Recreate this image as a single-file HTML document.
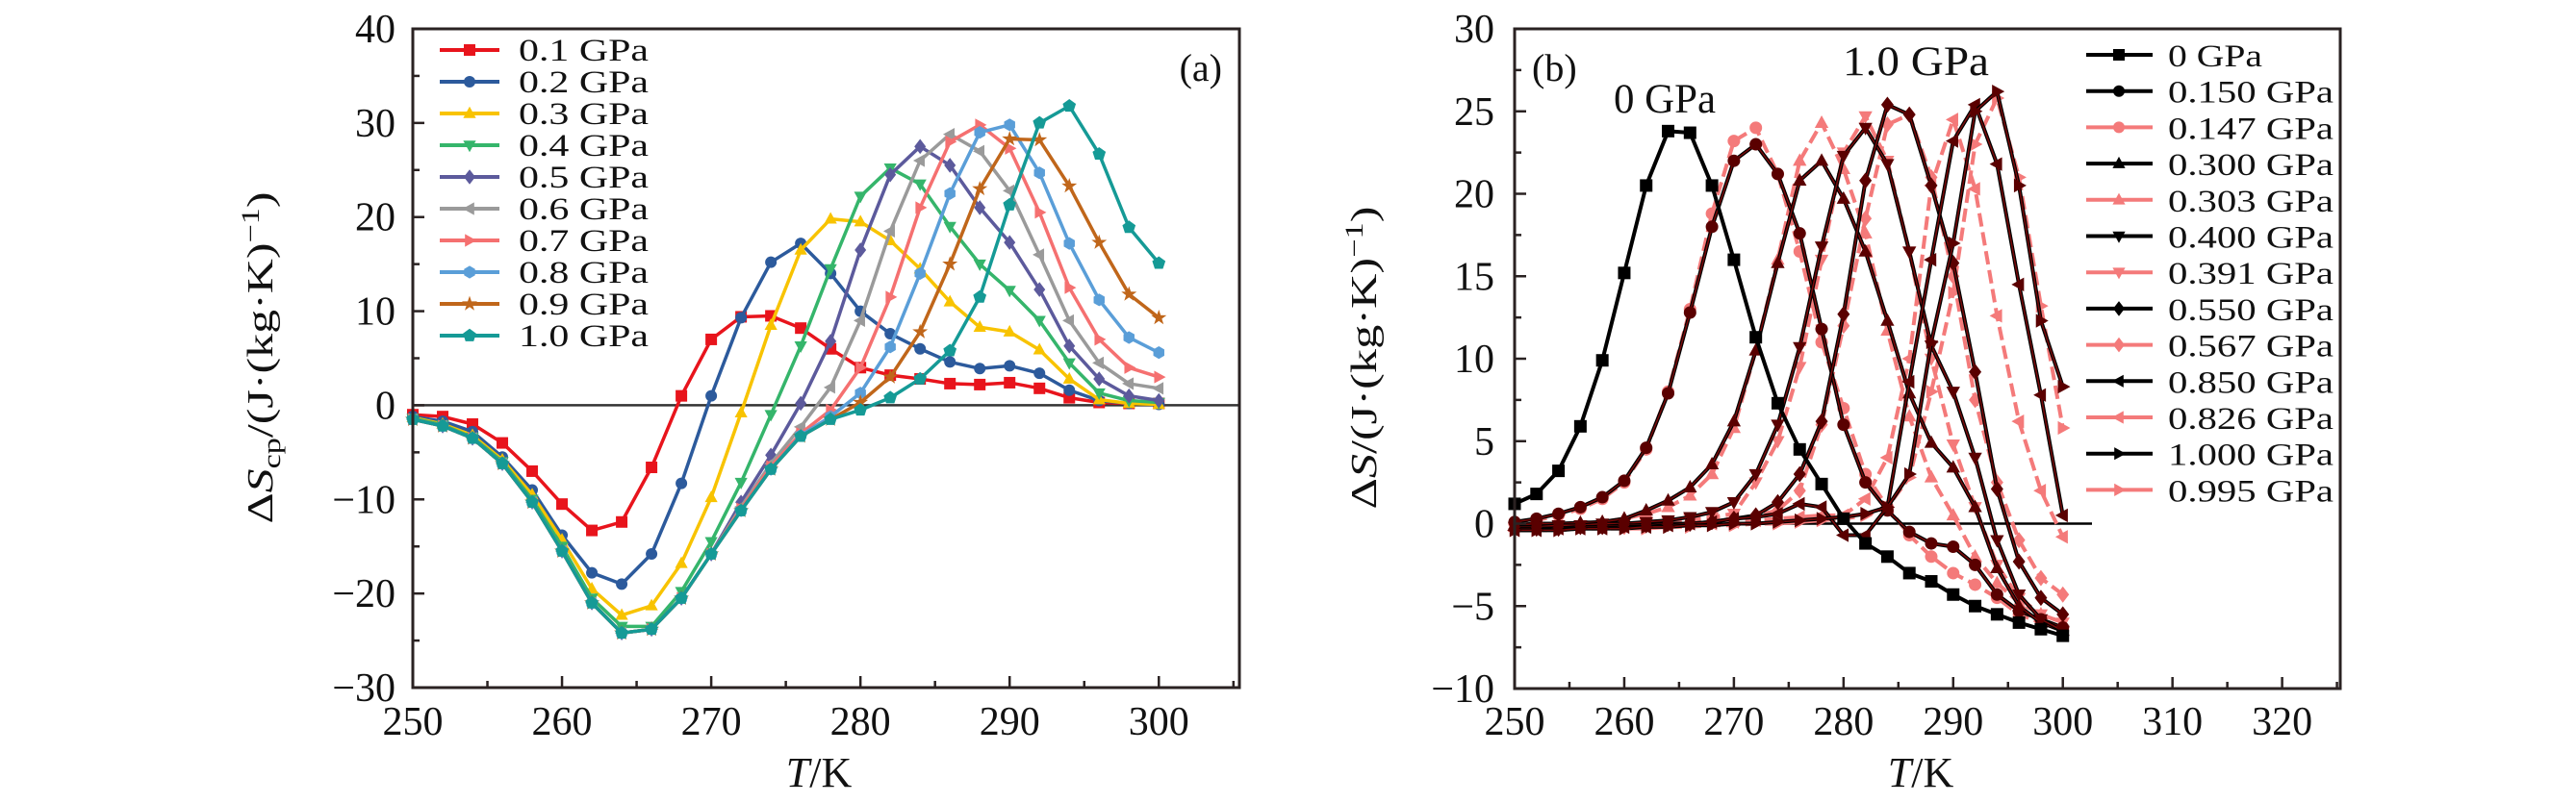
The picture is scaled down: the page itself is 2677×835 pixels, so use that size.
<!DOCTYPE html>
<html><head><meta charset="utf-8"><style>
html,body{margin:0;padding:0;background:#fff;}
svg{display:block;}
text{font-family:"Liberation Serif",serif;fill:#111;}
</style></head><body>
<svg id="s" width="2677" height="835" xmlns="http://www.w3.org/2000/svg"></svg>
<script>
const S=document.getElementById('s');let out='';
const T=[];for(let t=250;t<=300;t+=2)T.push(t);
function mk(shape,x,y,r,fill){
 switch(shape){
 case 'sq':return `<rect x="${x-r}" y="${y-r}" width="${2*r}" height="${2*r}" fill="${fill}"/>`;
 case 'ci':return `<circle cx="${x}" cy="${y}" r="${r}" fill="${fill}"/>`;
 case 'tu':return `<polygon points="${x},${y-r*1.2} ${x-r*1.1},${y+r*0.8} ${x+r*1.1},${y+r*0.8}" fill="${fill}"/>`;
 case 'td':return `<polygon points="${x},${y+r*1.2} ${x-r*1.1},${y-r*0.8} ${x+r*1.1},${y-r*0.8}" fill="${fill}"/>`;
 case 'tl':return `<polygon points="${x-r*1.2},${y} ${x+r*0.8},${y-r*1.1} ${x+r*0.8},${y+r*1.1}" fill="${fill}"/>`;
 case 'tr':return `<polygon points="${x+r*1.2},${y} ${x-r*0.8},${y-r*1.1} ${x-r*0.8},${y+r*1.1}" fill="${fill}"/>`;
 case 'di':return `<polygon points="${x},${y-r*1.3} ${x+r},${y} ${x},${y+r*1.3} ${x-r},${y}" fill="${fill}"/>`;
 case 'hx':{let p=[];for(let i=0;i<6;i++){let a=Math.PI/3*i+Math.PI/6;p.push((x+r*1.1*Math.cos(a))+','+(y+r*1.1*Math.sin(a)));}return `<polygon points="${p.join(' ')}" fill="${fill}"/>`;}
 case 'pe':{let p=[];for(let i=0;i<5;i++){let a=-Math.PI/2+2*Math.PI/5*i;p.push((x+r*1.2*Math.cos(a))+','+(y+r*1.2*Math.sin(a)));}return `<polygon points="${p.join(' ')}" fill="${fill}"/>`;}
 case 'st':{let p=[];for(let i=0;i<10;i++){let a=-Math.PI/2+Math.PI/5*i;let rr=i%2?r*0.55:r*1.4;p.push((x+rr*Math.cos(a))+','+(y+rr*Math.sin(a)));}return `<polygon points="${p.join(' ')}" fill="${fill}"/>`;}
 }
}
function line(pts,stroke,w,dash){return `<polyline points="${pts.map(p=>p.join(',')).join(' ')}" fill="none" stroke="${stroke}" stroke-width="${w}" stroke-linejoin="round" ${dash?`stroke-dasharray="${dash}"`:''}/>`;}

// ---------- Panel A ----------
const A={x0:429,x1:1288,y0:30,y1:715,tmin:250,tmax:305.4,vmin:-30,vmax:40};
function ax(t,P){return P.x0+(t-P.tmin)/(P.tmax-P.tmin)*(P.x1-P.x0);}
function ay(v,P){return P.y1-(v-P.vmin)/(P.vmax-P.vmin)*(P.y1-P.y0);}
const early5=[-1.5,-2.2,-3.5,-6.2,-10.3,-15.5,-21,-24.2,-23.8,-20.5,-15.8];
const sA=[
 ['0.1 GPa','#e8141c','sq',[-1,-1.2,-2,-4,-7,-10.5,-13.3,-12.4,-6.6,1,7,9.4,9.5,8.2,6,4,3.2,2.8,2.3,2.2,2.4,1.8,0.8,0.3,0.2,0.2]],
 ['0.2 GPa','#2c5a9c','ci',[-1.2,-1.7,-2.8,-5.5,-9,-13.8,-17.8,-19,-15.8,-8.3,1,9.3,15.2,17.2,14,10,7.6,6,4.6,3.9,4.2,3.4,1.6,0.5,0.2,0.1]],
 ['0.3 GPa','#f8c300','tu',[-1.3,-2,-3.2,-5.8,-9.5,-14.3,-19.5,-22.3,-21.3,-16.8,-9.8,-0.8,8.5,16.5,19.8,19.5,17.5,14.5,11,8.3,7.8,5.9,2.8,0.6,0.2,0.1]],
 ['0.4 GPa','#35b56b','td',[-1.4,-2.1,-3.4,-6,-10,-15,-20.5,-23.5,-23.5,-19.8,-14.5,-8.2,-1,6.3,14.5,22.2,25.2,23.5,19,15,12.2,9,4.5,1.3,0.5,0.3]],
 ['0.5 GPa','#5c5a9c','di',early5.concat([-10.3,-5.3,0.2,6.8,16.5,24.5,27.5,25.5,21,17.3,12.3,6.3,2.8,1,0.5])],
 ['0.6 GPa','#9a9a9a','tl',early5.concat([-10.8,-6.2,-2.3,1.9,9,18.5,26,28.8,27,22.8,16,9,4.5,2.3,1.8])],
 ['0.7 GPa','#f57070','tr',early5.concat([-11,-6.5,-3,-0.5,4,11.5,21,28,29.8,27.3,20.5,12.5,7,4,3])],
 ['0.8 GPa','#5a9ed8','hx',early5.concat([-11.2,-6.8,-3.2,-1.2,1.3,6.2,14,22.5,29,29.8,24.7,17.2,11.2,7.2,5.6])],
 ['0.9 GPa','#c0661a','st',early5.concat([-11.2,-6.8,-3.3,-1.5,0.3,3,7.8,15,23,28.3,28.2,23.3,17.3,11.8,9.3])],
 ['1.0 GPa','#159a96','pe',early5.concat([-11.2,-6.8,-3.3,-1.5,-0.5,0.8,2.8,5.8,11.5,21.3,30,31.8,26.7,18.9,15.1])]
];
out+=`<line x1="${A.x0}" y1="${ay(0,A)}" x2="${A.x1}" y2="${ay(0,A)}" stroke="#333" stroke-width="2.5"/>`;
sA.forEach(s=>{const pts=T.map((t,i)=>[ax(t,A),ay(s[3][i],A)]);out+=line(pts,s[1],3.5);pts.forEach(p=>out+=mk(s[2],p[0],p[1],6,s[1]));});
out+=`<rect x="${A.x0}" y="${A.y0}" width="${A.x1-A.x0}" height="${A.y1-A.y0}" fill="none" stroke="#2a2222" stroke-width="3"/>`;
for(let t=250;t<=305;t+=5){const x=ax(t,A),maj=t%10==0;out+=`<line x1="${x}" y1="${A.y1}" x2="${x}" y2="${A.y1-(maj?12:7)}" stroke="#2a2222" stroke-width="2.5"/>`;if(maj)out+=`<text x="${x}" y="764" font-size="42" text-anchor="middle">${t}</text>`;}
for(let v=-30;v<=40;v+=5){const y=ay(v,A),maj=v%10==0;out+=`<line x1="${A.x0}" y1="${y}" x2="${A.x0+(maj?12:7)}" y2="${y}" stroke="#2a2222" stroke-width="2.5"/>`;if(maj)out+=`<text x="411" y="${y+14}" font-size="42" text-anchor="end">${v<0?'−'+(-v):v}</text>`;}
sA.forEach((s,i)=>{const y=52+i*33;out+=`<line x1="457" y1="${y}" x2="519" y2="${y}" stroke="${s[1]}" stroke-width="4"/>`+mk(s[2],488,y,6,s[1])+`<text x="539" y="${y+11}" font-size="33" textLength="135" lengthAdjust="spacingAndGlyphs">${s[0]}</text>`;});
out+=`<text x="1270" y="84" font-size="40" text-anchor="end">(a)</text>`;
out+=`<text x="851" y="818" font-size="44" text-anchor="middle"><tspan font-style="italic">T</tspan>/K</text>`;
out+=`<text transform="translate(283,372) rotate(-90)" font-size="38" text-anchor="middle" textLength="345" lengthAdjust="spacingAndGlyphs">Δ<tspan font-style="italic">S</tspan><tspan font-size="26" dy="8">cp</tspan><tspan dy="-8">/(J·(kg·K)</tspan><tspan font-size="26" dy="-14">−1</tspan><tspan dy="14">)</tspan></text>`;

// ---------- Panel B ----------
const B={x0:1574,x1:2432,y0:30,y1:716,tmin:250,tmax:325.3,vmin:-10,vmax:30};
const sB=[
 ['0 GPa','k0','sq',[1.2,1.8,3.2,5.9,9.9,15.2,20.5,23.8,23.7,20.5,16,11.3,7.3,4.5,2.4,0.3,-1.2,-2,-3,-3.5,-4.3,-5,-5.5,-6,-6.4,-6.8]],
 ['0.150 GPa','k','ci',[0.1,0.3,0.6,1,1.6,2.6,4.6,7.9,12.8,18,22,23,21.2,17.6,11.8,6,2.5,0.8,-0.5,-1.2,-1.4,-2.5,-4.3,-5.3,-5.8,-6.3]],
 ['0.147 GPa','p','ci',[0,0.2,0.5,0.9,1.5,2.5,4.5,8,13,18.8,23.2,24,21.2,16.5,11,7,3,1,-0.7,-2,-3,-3.7,-4.5,-5.5,-6,-6.5]],
 ['0.300 GPa','k','tu',[-0.1,0,0,0.05,0.1,0.3,0.8,1.4,2.2,3.6,6.2,10.5,15.8,20.8,22,19.7,16.5,12.3,7.9,4.9,3.4,1,-2.7,-5,-6,-6.5]],
 ['0.303 GPa','p','tu',[-0.2,-0.1,0,0,0.1,0.3,0.6,1,1.7,3,5.8,10.5,16,22,24.3,21.5,17.6,11.7,6.5,2.8,0.5,-2,-3.6,-4.8,-5.5,-6]],
 ['0.400 GPa','k','td',[-0.2,-0.2,-0.1,-0.1,0,0,0.1,0.2,0.4,0.7,1.3,3,6,10.7,16.8,22.3,24,21.8,16.5,10.8,8,4,-1,-4.3,-5.8,-6.5]],
 ['0.391 GPa','p','td',[-0.3,-0.3,-0.2,-0.2,-0.1,0,0,0.1,0.3,0.4,0.6,2.5,5,9.5,16,22.5,24.7,22,16.5,10,4.8,1,-2.5,-4.5,-5.5,-6]],
 ['0.550 GPa','k','di',[-0.3,-0.3,-0.3,-0.2,-0.2,-0.1,-0.1,0,0,0.1,0.3,0.5,1.3,3,6.2,12.7,20.8,25.4,24.8,20.5,15.8,9.2,2.1,-2.3,-4.5,-5.5]],
 ['0.567 GPa','p','di',[-0.3,-0.3,-0.3,-0.2,-0.2,-0.2,-0.1,0,0.1,0.2,0.3,0.5,0.8,2,6,12,18.5,24.2,24.8,21,15,7.5,2.5,-1,-3.3,-4.3]],
 ['0.850 GPa','k','tl',[-0.4,-0.4,-0.3,-0.3,-0.3,-0.2,-0.2,-0.1,0,0.1,0.3,0.4,0.6,1.2,1,-0.7,-0.7,1,8.6,16,23.2,25.4,21.8,14.5,7.8,0.5]],
 ['0.826 GPa','p','tl',[-0.4,-0.3,-0.3,-0.3,-0.2,-0.2,-0.1,-0.1,0,0,0.1,0.2,0.3,0.4,0.5,0.5,1.5,4,10,20.5,24.5,20.3,12.6,6.2,2,-0.8]],
 ['1.000 GPa','k','tr',[-0.4,-0.4,-0.4,-0.3,-0.3,-0.3,-0.2,-0.2,-0.1,-0.1,0,0,0.1,0.2,0.3,0.4,0.6,1,3,11,17,25,26.2,20.5,12.3,8.3]],
 ['0.995 GPa','p','tr',[-0.4,-0.4,-0.4,-0.3,-0.3,-0.3,-0.3,-0.2,-0.2,-0.1,-0.1,0,0,0.1,0.2,0.3,0.5,1,2.8,8,14,23,25.8,21,13.2,5.8]]
];
out+=`<line x1="${B.x0}" y1="${ay(0,B)}" x2="2174" y2="${ay(0,B)}" stroke="#000" stroke-width="2.5"/>`;
const sty={k0:['#000','#000',null],k:['#000','#5a0000',null],p:['#f47a7a','#f47a7a','14,6']};
['p','k','k0'].forEach(kind=>{
 sB.forEach(s=>{if(s[1]!==kind)return;const st=sty[kind];const pts=T.map((t,i)=>[ax(t,B),ay(s[3][i],B)]);
  out+=line(pts,st[0],4,st[2]);if(kind==='k')out+=line(pts,'#7a0a0a',1.5);
  pts.forEach(p=>out+=mk(s[2],p[0],p[1],6.5,st[1]));});
});
out+=`<rect x="${B.x0}" y="${B.y0}" width="${B.x1-B.x0}" height="${B.y1-B.y0}" fill="none" stroke="#2a2222" stroke-width="3"/>`;
for(let t=250;t<=325;t+=5){const x=ax(t,B),maj=t%10==0;out+=`<line x1="${x}" y1="${B.y1}" x2="${x}" y2="${B.y1-(maj?12:7)}" stroke="#2a2222" stroke-width="2.5"/>`;if(maj&&t<=320)out+=`<text x="${x}" y="764" font-size="42" text-anchor="middle">${t}</text>`;}
for(let v=-10;v<=30;v+=2.5){const y=ay(v,B),maj=v%5==0;out+=`<line x1="${B.x0}" y1="${y}" x2="${B.x0+(maj?12:7)}" y2="${y}" stroke="#2a2222" stroke-width="2.5"/>`;if(maj)out+=`<text x="1553" y="${y+14}" font-size="42" text-anchor="end">${v<0?'−'+(-v):v}</text>`;}
sB.forEach((s,i)=>{const y=57+i*37.7;const st=sty[s[1]];out+=`<line x1="2168" y1="${y}" x2="2237" y2="${y}" stroke="${st[0]}" stroke-width="4"/>`+mk(s[2],2202,y,6,s[1]==='p'?st[1]:'#000')+`<text x="2253" y="${y+12}" font-size="33" textLength="${s[0].length>6?172:98}" lengthAdjust="spacingAndGlyphs">${s[0]}</text>`;});
out+=`<text x="1592" y="84" font-size="40">(b)</text>`;
out+=`<text x="1677" y="117" font-size="43" textLength="106" lengthAdjust="spacingAndGlyphs">0 GPa</text>`;
out+=`<text x="1915" y="78" font-size="43" textLength="152" lengthAdjust="spacingAndGlyphs">1.0 GPa</text>`;
out+=`<text x="1996" y="818" font-size="44" text-anchor="middle"><tspan font-style="italic">T</tspan>/K</text>`;
out+=`<text transform="translate(1430,372) rotate(-90)" font-size="38" text-anchor="middle" textLength="315" lengthAdjust="spacingAndGlyphs">Δ<tspan font-style="italic">S</tspan>/(J·(kg·K)<tspan font-size="26" dy="-14">−1</tspan><tspan dy="14">)</tspan></text>`;
S.innerHTML=out;
</script>
</body></html>
